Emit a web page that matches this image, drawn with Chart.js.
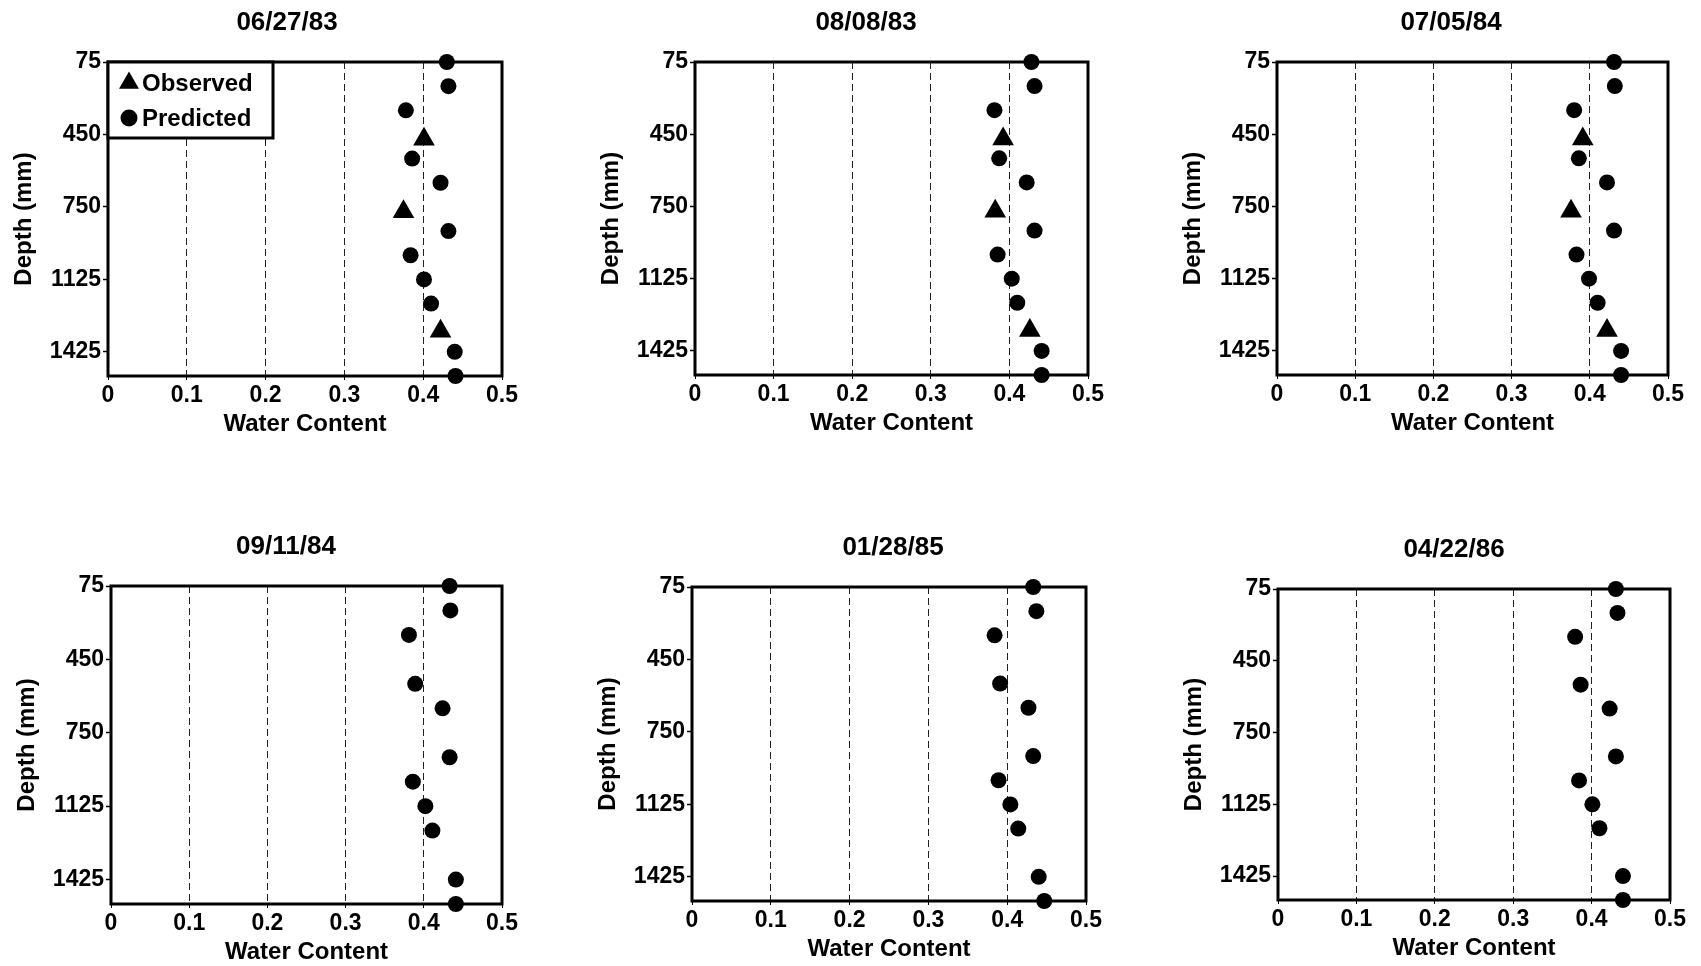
<!DOCTYPE html>
<html>
<head>
<meta charset="utf-8">
<title>Water content profiles</title>
<script src="https://cdn.jsdelivr.net/npm/chart.js@4.4.1/dist/chart.umd.min.js"></script>
<style>
  body { margin: 0; background: #fff; width: 1701px; height: 966px; position: relative; overflow: hidden; }
  canvas { position: absolute; }
</style>
</head>
<body>
<script>
//
// Observed vs predicted soil water content, six sampling dates
//

const dates = ['06/27/83', '08/08/83', '07/05/84', '09/11/84', '01/28/85', '04/22/86'];

// Depth axis is laid out by layer (equal spacing), labelled every third layer.
const depthTickLayers = [0, 3, 6, 9, 12];
const depthTickLabels = ['75', '450', '750', '1125', '1425'];
const predictedLayers = [0, 1, 2, 4, 5, 7, 8, 9, 10, 12, 13];
const observedLayers = [3.2, 6.2, 11.15];

const predicted_062783 = [0.430, 0.432, 0.378, 0.386, 0.422, 0.432, 0.384, 0.401, 0.410, 0.440, 0.441];
const predicted_080883 = [0.428, 0.432, 0.381, 0.387, 0.422, 0.432, 0.385, 0.403, 0.410, 0.441, 0.441];
const predicted_070584 = [0.431, 0.432, 0.380, 0.386, 0.422, 0.431, 0.383, 0.399, 0.410, 0.440, 0.440];
const predicted_091184 = [0.433, 0.434, 0.381, 0.389, 0.424, 0.433, 0.386, 0.402, 0.411, 0.441, 0.441];
const predicted_012885 = [0.433, 0.437, 0.384, 0.391, 0.427, 0.433, 0.389, 0.404, 0.414, 0.440, 0.447];
const predicted_042286 = [0.431, 0.433, 0.379, 0.386, 0.423, 0.431, 0.384, 0.401, 0.410, 0.440, 0.440];

const observed_062783 = [0.401, 0.375, 0.422];
const observed_080883 = [0.392, 0.382, 0.426];
const observed_070584 = [0.391, 0.376, 0.422];

const predictedSets = [predicted_062783, predicted_080883, predicted_070584,
                       predicted_091184, predicted_012885, predicted_042286];
const observedSets = [observed_062783, observed_080883, observed_070584, null, null, null];

// Page placement of each plot area (px) and its title centre.
const panels = [
  { left: 108,  top: 62,  width: 394, height: 314, titleX: 287 },
  { left: 695,  top: 62,  width: 393, height: 313, titleX: 866 },
  { left: 1277, top: 62,  width: 391, height: 313, titleX: 1451 },
  { left: 111,  top: 586, width: 391, height: 318, titleX: 286 },
  { left: 692,  top: 587, width: 394, height: 314, titleX: 893 },
  { left: 1278, top: 589, width: 392, height: 311, titleX: 1454 }
];

const AXIS_W = 108;
const HEAD_H = 62;
const FOOT_H = 63;
const PAD_R = 36;
const FAMILY = '"Liberation Sans", Arial, Helvetica, sans-serif';

function isEdge(v) {
  return v < 0.01 || v > 0.49;
}

const frame = {
  id: 'frame',
  beforeDatasetsDraw(chart) {
    const { ctx, chartArea: a } = chart;
    ctx.save();
    ctx.lineWidth = 3;
    ctx.strokeStyle = '#000';
    ctx.strokeRect(a.left, a.top, a.width, a.height);
    ctx.restore();
  }
};

const panelTitle = {
  id: 'panelTitle',
  afterDraw(chart, args, opts) {
    const { ctx, chartArea } = chart;
    ctx.save();
    ctx.font = `bold 26px ${FAMILY}`;
    ctx.fillStyle = '#000';
    ctx.textAlign = 'center';
    ctx.textBaseline = 'middle';
    ctx.fillText(opts.text, opts.x, chartArea.top - 39);
    ctx.restore();
  }
};

// Boxed legend inside the top-left corner of the plot.
const boxLegend = {
  id: 'boxLegend',
  beforeDatasetsDraw(chart) {
    const { ctx, chartArea } = chart;
    const x0 = chartArea.left, y0 = chartArea.top;
    ctx.save();
    ctx.fillStyle = '#fff';
    ctx.fillRect(x0, y0, 165, 76);
    ctx.lineWidth = 3;
    ctx.strokeStyle = '#000';
    ctx.strokeRect(x0, y0, 165, 76);
    ctx.font = `bold 24px ${FAMILY}`;
    ctx.textBaseline = 'middle';
    chart.data.datasets.forEach((ds, k) => {
      const cy = y0 + 21 + k * 35;
      ctx.fillStyle = '#000';
      Chart.helpers.drawPoint(ctx, {
        pointStyle: ds.pointStyle,
        radius: ds.pointStyle === 'triangle' ? 11.5 : 8.5,
        rotation: 0,
        borderWidth: 0
      }, x0 + 21, cy);
      ctx.fillStyle = '#000';
      ctx.fillText(ds.label, x0 + 34, cy + 1);
    });
    ctx.restore();
  }
};

function makeChart(i) {
  const p = panels[i];
  const canvasLeft = p.left - AXIS_W;
  const canvasTop = p.top - HEAD_H;
  const canvas = document.createElement('canvas');
  canvas.width = AXIS_W + p.width + PAD_R;
  canvas.height = HEAD_H + p.height + FOOT_H;
  canvas.style.left = canvasLeft + 'px';
  canvas.style.top = canvasTop + 'px';
  document.body.appendChild(canvas);

  const datasets = [];
  if (observedSets[i]) {
    datasets.push({
      label: 'Observed',
      data: observedSets[i].map((v, k) => ({ x: v, y: observedLayers[k] })),
      pointStyle: 'triangle',
      pointRadius: 12.5,
      backgroundColor: '#000',
      borderWidth: 0,
      clip: false
    });
  }
  datasets.push({
    label: 'Predicted',
    data: predictedSets[i].map((v, k) => ({ x: v, y: predictedLayers[k] })),
    pointStyle: 'circle',
    pointRadius: 8,
    backgroundColor: '#000',
    borderWidth: 0,
    clip: false
  });

  const tickFont = { family: FAMILY, size: 23, weight: 'bold' };
  const titleFont = { family: FAMILY, size: 24, weight: 'bold' };

  new Chart(canvas, {
    type: 'scatter',
    data: { datasets },
    plugins: i === 0 ? [frame, boxLegend, panelTitle] : [frame, panelTitle],
    options: {
      responsive: false,
      animation: false,
      devicePixelRatio: 1,
      layout: { padding: { top: HEAD_H, left: 0, right: PAD_R, bottom: 0 } },
      plugins: {
        legend: { display: false },
        tooltip: { enabled: false },
        panelTitle: { text: dates[i], x: p.titleX - canvasLeft }
      },
      scales: {
        x: {
          type: 'linear',
          min: 0,
          max: 0.5,
          afterFit: (s) => { s.height = FOOT_H; },
          ticks: {
            stepSize: 0.1,
            maxRotation: 0,
            padding: 2,
            color: '#000',
            font: tickFont,
            callback: (v) => (v === 0 ? '0' : v.toFixed(1))
          },
          grid: {
            color: (c) => (c.tick && isEdge(c.tick.value)) ? 'rgba(0,0,0,0)' : '#222',
            lineWidth: 1,
            drawTicks: true,
            tickLength: 4,
            tickColor: '#000'
          },
          border: { display: false, dash: [7, 4] },
          title: { display: true, text: 'Water Content', color: '#000', font: titleFont, padding: { top: 0, bottom: 0 } }
        },
        y: {
          type: 'linear',
          reverse: true,
          min: 0,
          max: 13,
          afterFit: (s) => { s.width = AXIS_W; },
          afterBuildTicks: (s) => { s.ticks = depthTickLayers.map((v) => ({ value: v })); },
          ticks: {
            padding: 2,
            color: '#000',
            font: tickFont,
            callback: (v) => depthTickLabels[depthTickLayers.indexOf(v)]
          },
          grid: {
            drawOnChartArea: false,
            drawTicks: true,
            tickLength: 5,
            tickColor: '#000',
            tickWidth: 1.5
          },
          border: { display: false },
          title: { display: true, text: 'Depth (mm)', color: '#000', font: titleFont, padding: { top: 10, bottom: 0 } }
        }
      }
    }
  });
}

for (let i = 0; i < panels.length; i++) {
  makeChart(i);
}
</script>
</body>
</html>
